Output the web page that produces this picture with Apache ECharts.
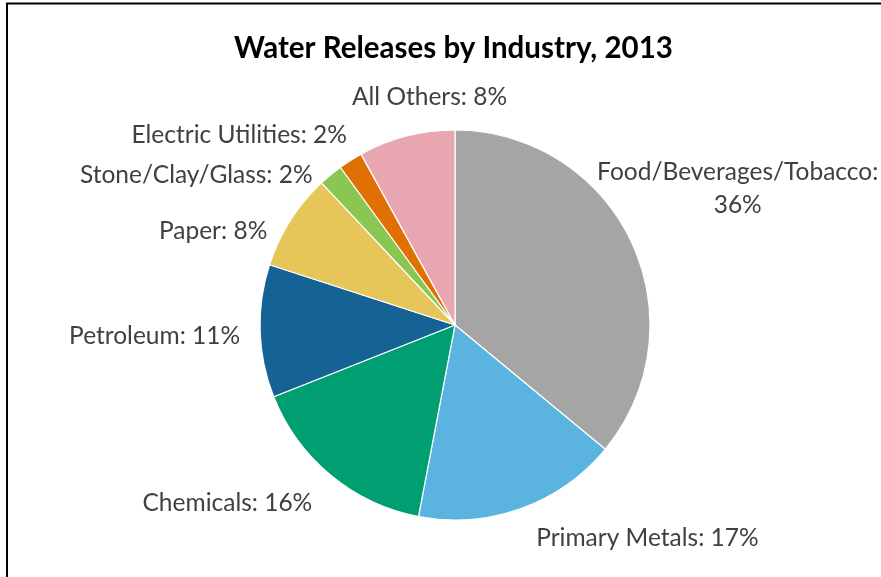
<!DOCTYPE html>
<html>
<head>
<meta charset="utf-8">
<script src="https://cdn.jsdelivr.net/npm/echarts@6/dist/echarts.min.js"></script>
<style>
  html, body { margin: 0; padding: 0; background: #fff; }
  #chart { width: 881px; height: 577px; }
</style>
</head>
<body>
<div id="chart"></div>
<script>
// Share of water releases by industry, 2013 (percent)
const industries = [
  'Food/Beverages/Tobacco',
  'Primary Metals',
  'Chemicals',
  'Petroleum',
  'Paper',
  'Stone/Clay/Glass',
  'Electric Utilities',
  'All Others'
];
const shares = [36, 17, 16, 11, 8, 2, 2, 8];
const sliceColors = ['#A5A5A5', '#5BB3DF', '#009F72', '#156294', '#E6C659', '#8CC652', '#E07002', '#E8A7B0'];

// Nudges for the outside labels so they sit clear of the pie
const labelNudge = [
  { dx: 85, dy: -46, align: 'center' },
  { dx: 4, dy: 13 },
  { dx: -2, dy: 14 },
  { dx: -2, dy: 4 },
  { dx: 0, dy: 7 },
  { dx: 22, dy: -14 },
  { dx: 20, dy: -19 },
  { dx: 110, dy: -22 }
];

const chart = echarts.init(document.getElementById('chart'));
chart.setOption({
  animation: false,
  title: {
    text: 'Water Releases by Industry, 2013',
    left: 229,
    top: 28,
    textStyle: { fontFamily: 'Lato', fontWeight: 'bold', fontSize: 29.5, color: '#000' }
  },
  graphic: [{
    type: 'rect',
    shape: { x: 7, y: 3.5, width: 900, height: 600 },
    style: { fill: 'none', stroke: '#000', lineWidth: 2 },
    silent: true
  }],
  series: [{
    type: 'pie',
    center: [455, 325],
    radius: 195,
    startAngle: 90,
    clockwise: true,
    data: industries.map((name, i) => ({ name, value: shares[i], itemStyle: { color: sliceColors[i] } })),
    itemStyle: { borderColor: '#fff', borderWidth: 1.2 },
    label: {
      show: true,
      position: 'outside',
      overflow: 'none',
      formatter: p => p.name === 'Food/Beverages/Tobacco' ? p.name + ':\n' + p.value + '%' : p.name + ': ' + p.value + '%',
      fontFamily: 'Lato',
      fontSize: 24.5,
      color: '#404040',
      lineHeight: 33
    },
    labelLine: { show: false, length: 18, length2: 0 },
    labelLayout: params => labelNudge[params.dataIndex],
    emphasis: { disabled: true }
  }]
});
</script>
</body>
</html>
